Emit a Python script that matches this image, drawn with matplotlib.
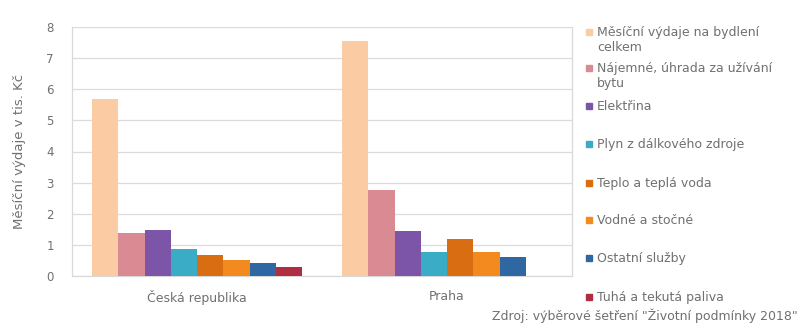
import matplotlib
matplotlib.use("Agg")
import matplotlib.pyplot as plt
from matplotlib.patches import Rectangle
import numpy as np

plt.rcParams['font.family'] = ['DejaVu Sans']

categories = ["Česká republika", "Praha"]
series = [
    "Měsíční výdaje na bydlení\ncelkem",
    "Nájemné, úhrada za užívání\nbytu",
    "Elektřina",
    "Plyn z dálkového zdroje",
    "Teplo a teplá voda",
    "Vodné a stočné",
    "Ostatní služby",
    "Tuhá a tekutá paliva",
]
values_cr = [5.70, 1.37, 1.47, 0.87, 0.69, 0.53, 0.42, 0.30]
values_praha = [7.55, 2.77, 1.43, 0.77, 1.18, 0.77, 0.60, 0.0]
colors = ["#FBCBA3", "#D98A92", "#7D55A8", "#3AACC6", "#D86D12",
          "#F28A20", "#2F67A3", "#B02E42"]
source = "Zdroj: výběrové šetření \"Životní podmínky 2018\""
ylabel = "Měsíční výdaje v tis. Kč"

gray = "#707070"
fig = plt.figure(figsize=(8.02, 3.29), dpi=100)
ax = fig.add_axes([72/802, 1-276/329, 500/802, 249/329])

n = len(series)
w = 0.105
x = np.arange(len(categories))
for i in range(n):
    vals = [values_cr[i], values_praha[i]]
    ax.bar(x + (i - (n - 1) / 2) * w, vals, width=w, color=colors[i],
           zorder=3, linewidth=0)

ax.set_xlim(-0.5, 1.5)
ax.set_ylim(0, 8)
ax.set_yticks(range(0, 9))
ax.set_xticks(x)
ax.set_xticklabels(categories, fontsize=9)
ax.yaxis.grid(True, color="#DCDCDC", linewidth=0.9, zorder=0)
ax.tick_params(axis='both', length=0, colors=gray)
ax.tick_params(axis='y', labelsize=8.5, pad=13)
ax.tick_params(axis='x', pad=10)
for s in ["top"]:
    ax.spines[s].set_visible(False)
for s in ["left", "right", "bottom"]:
    ax.spines[s].set_color("#D9D9D9")
    ax.spines[s].set_linewidth(0.9)
ax.set_ylabel(ylabel, fontsize=9.5, color=gray, labelpad=15)

# legend (manual, Excel-like layout)
line_y = [32, 68, 106, 144, 183, 220, 258, 297]
for i, lab in enumerate(series):
    yy = 1 - line_y[i] / 329
    fig.patches.append(Rectangle((586/802, yy - 2.8/329), 5.5/802, 5.5/329,
                                 transform=fig.transFigure, color=colors[i]))
    fig.text(597/802, yy + 6/329, lab, fontsize=9, color=gray,
             va='top', ha='left', linespacing=1.2)

fig.text(798/802, 1 - 316/329, source, fontsize=9, color=gray,
         ha='right', va='center')

fig.savefig("out.png", dpi=100)
